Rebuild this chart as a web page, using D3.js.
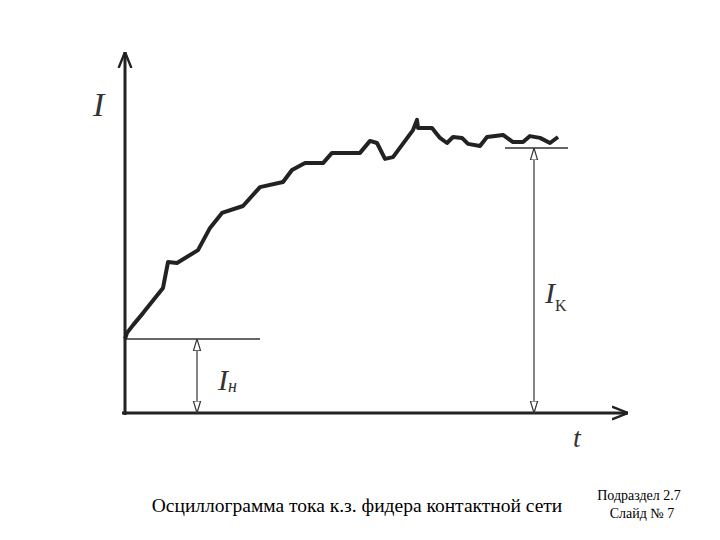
<!DOCTYPE html>
<html><head><meta charset="utf-8">
<script src="https://cdn.jsdelivr.net/npm/d3@7"></script>
<style>body{margin:0;background:#fff}</style>
</head><body>
<svg id="chart" width="720" height="540"></svg>
<script>
// oscillogram, t in arbitrary units, I in arbitrary units
const tVals = [0,0.4,1.6,3.6,7.6,8.6,10.4,14.6,17,19.4,23.6,27,31.6,33.4,36,39.6,41.4,47,49,50.4,52,53.6,57.6,58.4,58.6,61.4,63,64.4,65.6,67.4,68.6,71,72.4,75.6,77.6,79.6,81,83,85,86.6];
const iVals = [24.7,26.7,29.3,33.3,41.7,50.3,50,54.3,61.7,66.7,69,75.3,77,81,83.3,83.3,86.7,86.7,90.7,90,84.7,85.3,94.3,97.7,95,95,91.7,90,92,91.7,89.7,89,92,92.7,90.3,90.3,92.3,91.7,90,92];
const iStart = 24.7;   // I_н
const iSteady = 88.3;  // I_к

const svg = d3.select("#chart");
const x = d3.scaleLinear().domain([0, 100]).range([125, 625]);
const y = d3.scaleLinear().domain([0, 100]).range([413, 113]);
const data = tVals.map((t, i) => ({t, I: iVals[i]}));

const defs = svg.append("defs");
defs.append("marker").attr("id", "big").attr("viewBox", "0 0 10 10")
    .attr("refX", 10).attr("refY", 5).attr("markerWidth", 16).attr("markerHeight", 16)
    .attr("markerUnits", "userSpaceOnUse").attr("orient", "auto")
    .append("path").attr("d", "M0,1 L10,5 L0,9").attr("fill", "none").attr("stroke", "#222").attr("stroke-width", 1.5);
defs.append("marker").attr("id", "small").attr("viewBox", "0 0 10 10")
    .attr("refX", 10).attr("refY", 5).attr("markerWidth", 12).attr("markerHeight", 12)
    .attr("markerUnits", "userSpaceOnUse").attr("orient", "auto-start-reverse")
    .append("path").attr("d", "M0,2 L10,5 L0,8 Z").attr("fill", "#fff").attr("stroke", "#333").attr("stroke-width", 1);

// axes
svg.append("line").attr("x1", x(0)).attr("y1", y(0) + 2).attr("x2", x(0)).attr("y2", 52)
    .attr("stroke", "#222").attr("stroke-width", 3).attr("marker-end", "url(#big)");
svg.append("line").attr("x1", x(0) - 3).attr("y1", y(0)).attr("x2", 628).attr("y2", y(0))
    .attr("stroke", "#222").attr("stroke-width", 3).attr("marker-end", "url(#big)");

// reference levels
svg.append("line").attr("x1", x(0)).attr("x2", x(27)).attr("y1", y(iStart)).attr("y2", y(iStart))
    .attr("stroke", "#333").attr("stroke-width", 1.5);
svg.append("line").attr("x1", x(76)).attr("x2", x(88.6)).attr("y1", y(iSteady)).attr("y2", y(iSteady))
    .attr("stroke", "#333").attr("stroke-width", 1.5);

// dimension arrows
[[14.4, iStart], [81.8, iSteady]].forEach(([t, lvl]) => {
  svg.append("line").attr("x1", x(t)).attr("x2", x(t)).attr("y1", y(lvl)).attr("y2", y(0))
      .attr("stroke", "#333").attr("stroke-width", 1.2)
      .attr("marker-start", "url(#small)").attr("marker-end", "url(#small)");
});

// curve
svg.append("path").datum(data)
    .attr("d", d3.line().x(d => x(d.t)).y(d => y(d.I)))
    .attr("fill", "none").attr("stroke", "#222").attr("stroke-width", 4).attr("stroke-linejoin", "round");

const lab = (tx, ty, txt, size) => svg.append("text").attr("x", tx).attr("y", ty)
    .attr("font-family", "Liberation Serif").attr("font-style", "italic").attr("font-size", size).attr("fill", "#333").text(txt);
lab(93, 116, "I", 34);
lab(573, 447, "t", 28);
const ln = lab(218, 390, "I", 30); ln.append("tspan").attr("font-size", 18).attr("dy", 2).text("н");
const lk = lab(545, 303, "I", 30); lk.append("tspan").attr("font-size", 16).attr("dy", 8).attr("font-style", "normal").text("K");

svg.append("text").attr("x", 357).attr("y", 512).attr("text-anchor", "middle")
    .attr("font-family", "Liberation Serif").attr("font-size", 19.5).text("Осциллограмма тока к.з. фидера контактной сети");
svg.append("text").attr("x", 639).attr("y", 500).attr("text-anchor", "middle")
    .attr("font-family", "Liberation Serif").attr("font-size", 14).text("Подраздел 2.7");
svg.append("text").attr("x", 642).attr("y", 518).attr("text-anchor", "middle")
    .attr("font-family", "Liberation Serif").attr("font-size", 14).text("Слайд № 7");
</script>
</body></html>
